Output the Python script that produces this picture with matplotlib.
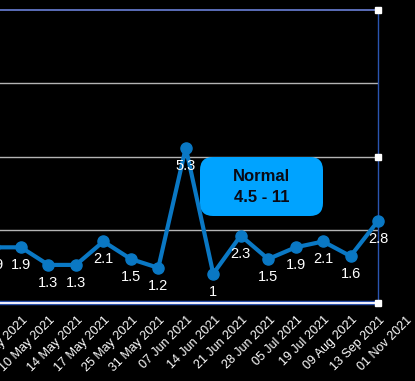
import matplotlib
matplotlib.use("Agg")
import matplotlib.pyplot as plt
from matplotlib.patches import FancyBboxPatch
from matplotlib.transforms import IdentityTransform, blended_transform_factory

# data
dates = ["28 Apr 2021", "05 May 2021", "10 May 2021", "14 May 2021", "17 May 2021",
         "25 May 2021", "31 May 2021", "07 Jun 2021", "14 Jun 2021", "21 Jun 2021",
         "28 Jun 2021", "05 Jul 2021", "19 Jul 2021", "09 Aug 2021", "13 Sep 2021",
         "01 Nov 2021"]
values = [1.9, 1.9, 1.3, 1.3, 2.1, 1.5, 1.2, 5.3, 1.0, 2.3, 1.5, 1.9, 2.1, 1.6, 2.8]
value_labels = ["1.9", "1.9", "1.3", "1.3", "2.1", "1.5", "1.2", "5.3", "1", "2.3",
                "1.5", "1.9", "2.1", "1.6", "2.8"]
y_ticks = [2.5, 5, 7.5, 10]
range_title = "Normal"
range_text = "4.5 - 11"

plt.rcParams['font.family'] = ['Liberation Sans', 'DejaVu Sans']

W, H = 415, 381
fig = plt.figure(figsize=(W / 100, H / 100), dpi=100, facecolor="black")
ax = fig.add_axes([0, 78 / H, 378 / W, 293 / H], facecolor="black")

xs = list(range(len(values)))
ax.set_xlim(0.235, len(values) - 1)
ax.set_ylim(0, 10)

# grid
for y in y_ticks[:-1]:
    ax.axhline(y, color="#b4b4b4", lw=1, zorder=1)
ax.axhline(10, color="#6a80d8", lw=1.2, zorder=1, clip_on=False)

for s in ["left", "top", "bottom"]:
    ax.spines[s].set_visible(False)
ax.spines["right"].set_color("#2a55b0")
ax.spines["right"].set_linewidth(1)
# bottom axis line: white with a thin blue edge
ax.axhline(0, color="#2a4fa8", lw=3.2, zorder=2, clip_on=False)
ax.axhline(0, color="#f4f4ff", lw=1.4, zorder=2, clip_on=False)
ax.set_xticks([])
ax.set_yticks([])

ax.plot(xs, values, color="#0a78c4", lw=3, marker="o", ms=8,
        solid_joinstyle="round", zorder=3, clip_on=False)

for x, v, lab in zip(xs, values, value_labels):
    ax.annotate(lab, (x, v), xytext=(0, -18), textcoords="offset pixels",
                ha="center", va="center", color="white", fontsize=10.5, zorder=4,
                annotation_clip=False)

# x labels (one extra category beyond the plot edge)
trans = blended_transform_factory(ax.transData, ax.transAxes)
for i, d in enumerate(dates):
    ax.text(i + 0.03, -0.038, d, transform=trans, rotation=45, rotation_mode="anchor",
            ha="right", va="top", color="white", fontsize=9, clip_on=False)

# selection handles
for fy in [0, 0.5, 1]:
    ax.plot([1], [fy], transform=ax.transAxes, marker="s", ms=5, color="white",
            mec="white", clip_on=False, zorder=6)

# reference range box
box = FancyBboxPatch((200, H - 216), 123, 59, boxstyle="round,pad=0,rounding_size=13",
                     transform=IdentityTransform(), facecolor="#00a3ff", edgecolor="none",
                     zorder=5)
fig.patches.append(box)
fig.text(261.5 / W, (H - 177) / H, range_title, ha="center", va="center",
         fontsize=12, fontweight="bold", color="#0a0a14", zorder=7)
fig.text(261.5 / W, (H - 198) / H, range_text, ha="center", va="center",
         fontsize=12, fontweight="bold", color="#0a0a14", zorder=7)

fig.savefig("out.png", dpi=100, facecolor="black")
